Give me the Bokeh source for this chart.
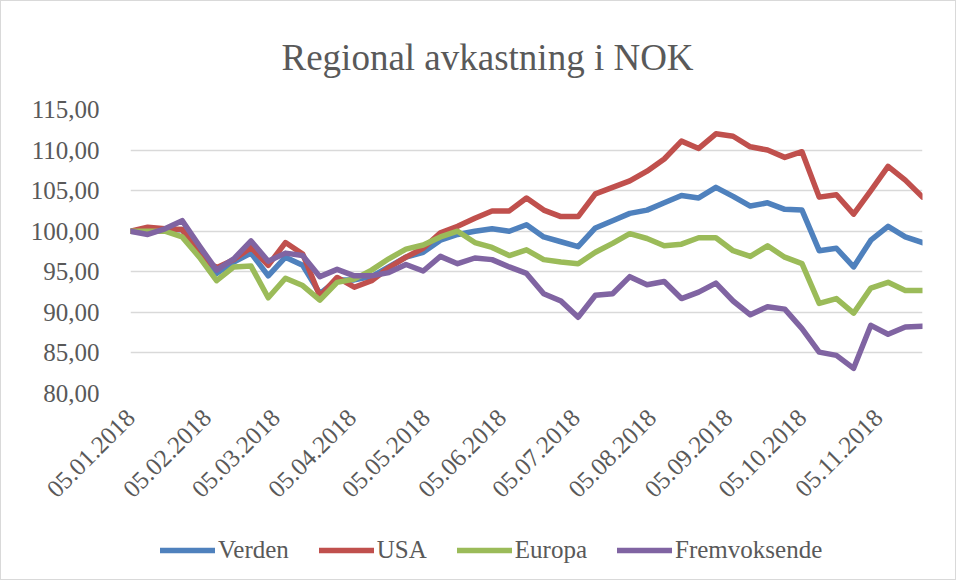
import pandas as pd
from math import pi
from bokeh.plotting import figure
from bokeh.layouts import column
from bokeh.models import Range1d, FixedTicker, Legend, LegendItem
from bokeh.embed import file_html
from bokeh.resources import INLINE

start_date = "2018-01-05"
n_weeks = 47
month_ticks = ["2018-01-05", "2018-02-05", "2018-03-05", "2018-04-05", "2018-05-05", "2018-06-05",
               "2018-07-05", "2018-08-05", "2018-09-05", "2018-10-05", "2018-11-05"]
y_ticks = [80, 85, 90, 95, 100, 105, 110, 115]

verden = [100.0, 99.9, 100.1, 100.2, 97.3, 94.8, 96.2, 97.3, 94.5, 96.8,
          95.8, 92.3, 94.0, 94.0, 94.4, 95.6, 96.8, 97.4, 98.9, 99.6,
          100.0, 100.3, 100.0, 100.8, 99.3, 98.7, 98.1, 100.4, 101.3, 102.2,
          102.6, 103.5, 104.4, 104.1, 105.4, 104.3, 103.1, 103.5, 102.7, 102.6,
          97.6, 97.9, 95.6, 98.9, 100.6, 99.3, 98.6]
usa = [100.0, 100.5, 100.3, 100.2, 97.0, 95.5, 96.5, 98.0, 95.8, 98.6,
       97.2, 92.0, 94.3, 93.1, 93.9, 95.5, 96.8, 97.9, 99.8, 100.6,
       101.6, 102.5, 102.5, 104.1, 102.6, 101.8, 101.8, 104.6, 105.4, 106.2,
       107.4, 108.9, 111.1, 110.2, 112.0, 111.7, 110.4, 110.0, 109.1, 109.8,
       104.2, 104.5, 102.1, 105.0, 108.0, 106.3, 104.2]
europa = [100.0, 100.0, 100.0, 99.3, 96.8, 93.9, 95.6, 95.7, 91.8, 94.2,
          93.3, 91.5, 93.7, 94.1, 95.2, 96.6, 97.8, 98.3, 99.3, 100.0,
          98.6, 98.0, 97.0, 97.7, 96.5, 96.2, 96.0, 97.4, 98.5, 99.7,
          99.1, 98.2, 98.4, 99.2, 99.2, 97.6, 96.9, 98.2, 96.8, 96.0,
          91.1, 91.7, 89.9, 93.0, 93.7, 92.7, 92.7]
fremvoksende = [100.0, 99.6, 100.3, 101.3, 98.2, 95.2, 96.6, 98.8, 96.3, 97.3,
                97.0, 94.4, 95.3, 94.5, 94.5, 94.9, 95.9, 95.1, 96.9, 96.0,
                96.7, 96.5, 95.6, 94.8, 92.3, 91.4, 89.4, 92.1, 92.3, 94.4,
                93.4, 93.8, 91.7, 92.5, 93.6, 91.4, 89.7, 90.7, 90.4, 88.0,
                85.1, 84.7, 83.1, 88.4, 87.3, 88.2, 88.3]

series_names = ["Verden", "USA", "Europa", "Fremvoksende"]
series_values = [verden, usa, europa, fremvoksende]
colors = ["#4F81BD", "#C0504D", "#9BBB59", "#8064A2"]

t0 = pd.Timestamp(start_date)
dates = pd.date_range(start_date, periods=n_weeks, freq="7D")
x = [(d - t0).days for d in dates]
tick_pos = [(pd.Timestamp(d) - t0).days for d in month_ticks]
tick_lbl = {tp: pd.Timestamp(d).strftime("%d.%m.%Y") for tp, d in zip(tick_pos, month_ticks)}

FONT = "Liberation Serif"
TXT = "#595959"

p = figure(width=954, height=520, output_backend="svg", toolbar_location=None,
           x_range=Range1d(x[0], x[-1]), y_range=Range1d(80, 115),
           min_border_left=129, min_border_right=33, min_border_top=108, min_border_bottom=128)
p.outline_line_color = None
p.background_fill_color = "white"
p.border_fill_color = "white"

p.title.text = "Regional avkastning i NOK"
p.title.text_font = FONT
p.title.text_font_size = "37px"
p.title.text_font_style = "normal"
p.title.text_color = TXT
p.title.align = "left"
p.title.offset = 151
p.title.standoff = 63

for name, vals, c in zip(series_names, series_values, colors):
    p.line(x, vals, line_color=c, line_width=5.5, line_join="round", line_cap="round")

p.xaxis.ticker = FixedTicker(ticks=tick_pos)
p.xaxis.major_label_overrides = tick_lbl
p.xaxis.major_label_orientation = pi / 4
p.yaxis.ticker = FixedTicker(ticks=y_ticks)
p.yaxis.major_label_overrides = {v: f"{v},00" for v in y_ticks}
for ax in (p.xaxis[0], p.yaxis[0]):
    ax.axis_line_color = None
    ax.major_tick_line_color = None
    ax.minor_tick_line_color = None
    ax.major_label_text_font = FONT
    ax.major_label_text_font_size = "25px"
    ax.major_label_text_color = TXT
p.yaxis.major_label_standoff = 25
p.xaxis.major_label_standoff = 14

p.xgrid.grid_line_color = None
p.ygrid.ticker = FixedTicker(ticks=y_ticks)
p.ygrid.grid_line_color = "#d9d9d9"
p.ygrid.grid_line_width = 1.5

# legend strip below the chart (same series, ranges chosen so lines stay out of view)
pl = figure(width=954, height=58, output_backend="svg", toolbar_location=None,
            x_range=Range1d(0, 1), y_range=Range1d(0, 1),
            min_border_left=0, min_border_right=0, min_border_top=0, min_border_bottom=0)
pl.axis.visible = False
pl.grid.grid_line_color = None
pl.outline_line_color = None
pl.border_fill_color = "white"
proxies = []
for name, vals, c in zip(series_names, series_values, colors):
    proxies.append(pl.line(x, vals, line_color=c, line_width=5.5, line_cap="round"))
legend = Legend(items=[LegendItem(label=n, renderers=[r]) for n, r in zip(series_names, proxies)],
                orientation="horizontal", location=(30, 15),
                label_text_font=FONT, label_text_font_size="25px", label_text_color=TXT,
                glyph_width=55, glyph_height=26, label_standoff=3, spacing=30,
                padding=0, margin=0, border_line_color=None, background_fill_alpha=0)
pl.add_layout(legend, "center")

layout = column(p, pl, spacing=0, styles={"border": "1px solid #d9d9d9"})
open("out.html", "w").write(file_html(layout, INLINE))
